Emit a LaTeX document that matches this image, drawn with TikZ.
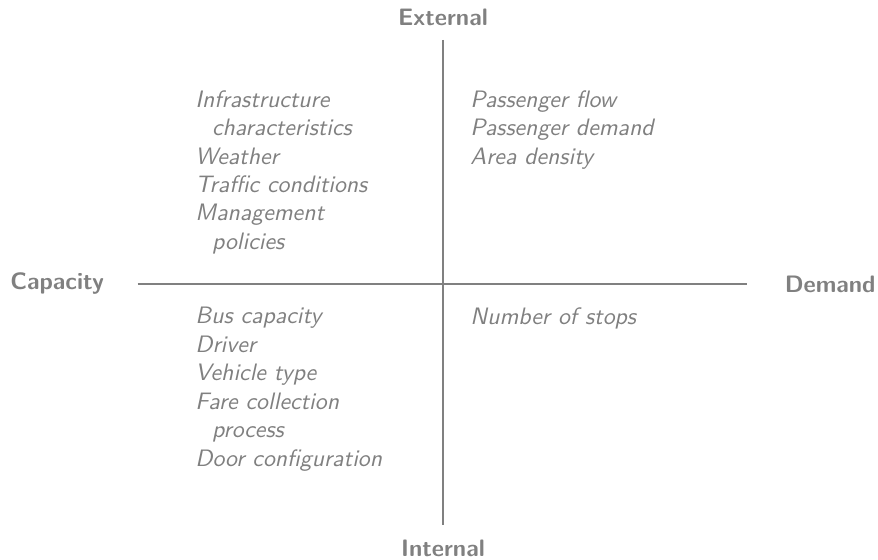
\documentclass[tikz,border=0pt]{standalone}
\usetikzlibrary{positioning}
\definecolor{axisgray}{HTML}{808080}
\tikzset{
	axis/.style={draw=axisgray,line width=0.9pt},
	pole/.style={text=axisgray,font=\fontsize{10.7}{12.8}\selectfont\sffamily\bfseries},
	factors/.style={text=axisgray,font=\fontsize{10.7}{12.8}\selectfont\sffamily\itshape,align=left,inner sep=0pt,anchor=north west},
}
\newcommand{\cont}{\hspace*{0.7em}}
\begin{document}
\begin{tikzpicture}[x=0.45pt,y=-0.45pt]
	\useasboundingbox (0,0) rectangle (878,559);
	\node[pole] (ext) at (443,17) {External};
	\node[pole] (int) at (443,548) {Internal};
	\node[pole,anchor=west,inner sep=0pt] (cap) at (10,284) {Capacity};
	\node[pole,anchor=east,inner sep=0pt] (dem) at (876,284) {Demand};

	\draw[axis] ([yshift=-3pt]ext.south) -- ([yshift=3pt]int.north);
	\draw[axis] ([xshift=15pt]cap.east) -- ([xshift=-17pt]dem.west);

	\node[factors] (extcap) at (195,90) {Infrastructure\\\cont characteristics\\Weather\\Traffic conditions\\Management\\\cont policies};
	\node[factors] (extdem) at (470,90) {Passenger flow\\Passenger demand\\Area density};
	\node[factors] (intcap) at (195,307) {Bus capacity\\Driver\\Vehicle type\\Fare collection\\\cont process\\Door configuration};
	\node[factors] (intdem) at (470,307) {Number of stops};
\end{tikzpicture}
\end{document}
